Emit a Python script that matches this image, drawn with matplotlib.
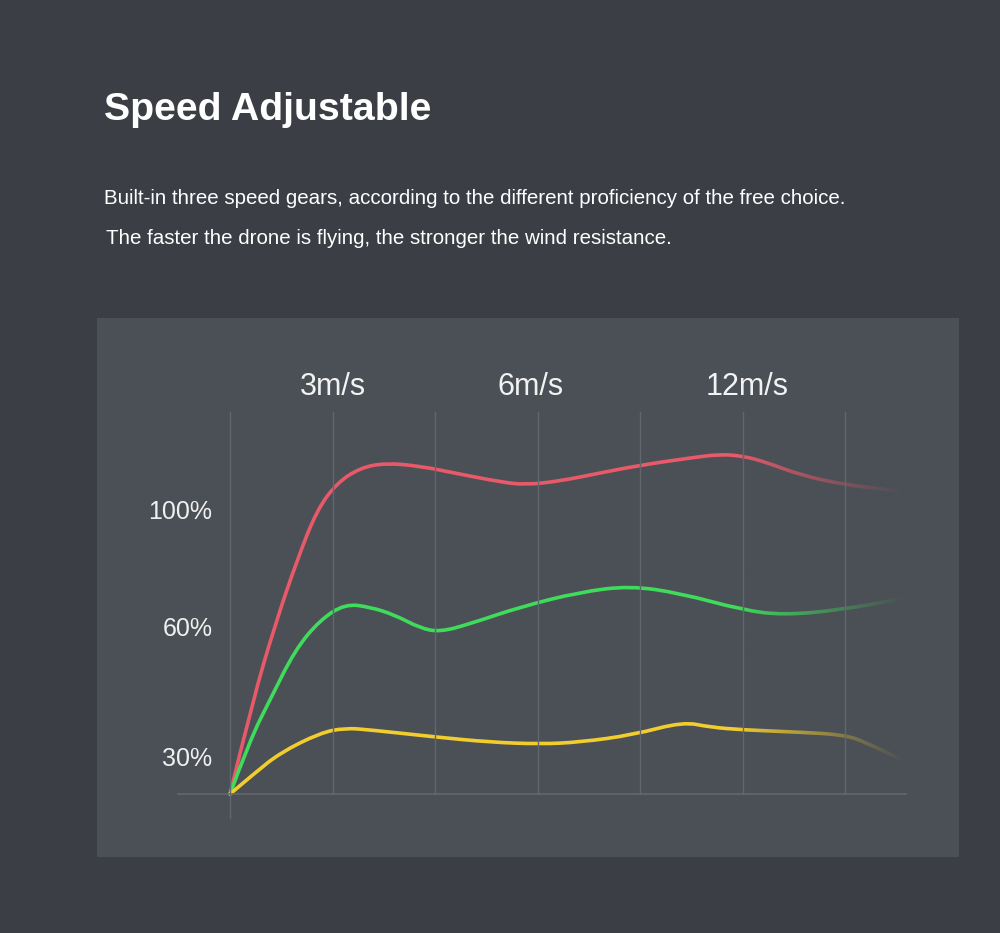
import numpy as np
import matplotlib
matplotlib.use("Agg")
from matplotlib import pyplot as plt
from matplotlib.path import Path
from matplotlib.patches import PathPatch

# chart units: x = gear grid columns (0..6), y = height above baseline
red_x = [0, 0.224, 0.439, 0.654, 0.849, 1.044, 1.268, 1.512, 1.854, 2.244, 2.634,
         2.878, 3.220, 3.610, 4.020, 4.488, 4.780, 5.005, 5.220, 5.561, 6.000, 6.537]
red_y = [0, 24.5, 44.0, 60.9, 74.0, 81.0, 84.9, 86.2, 85.4, 83.3, 81.3,
         80.5, 81.5, 83.6, 85.7, 87.5, 88.5, 88.0, 86.5, 83.1, 80.5, 78.9]

green_x = [0, 0.195, 0.390, 0.634, 0.878, 1.122, 1.366, 1.610, 1.854, 2.049, 2.341,
           2.829, 3.415, 3.902, 4.390, 5.005, 5.395, 5.951, 6.585]
green_y = [0, 14.1, 24.5, 37.5, 45.3, 49.5, 48.7, 46.6, 43.2, 42.2, 44.3,
           48.7, 52.6, 54.2, 52.3, 47.9, 46.6, 47.9, 51.0]

yellow_x = [0, 0.244, 0.488, 0.878, 1.122, 1.366, 2.020, 2.537, 3.024, 3.415, 3.932,
            4.420, 4.683, 5.005, 5.561, 6.000, 6.215, 6.605]
yellow_y = [0, 5.5, 10.7, 15.9, 17.2, 16.7, 14.8, 13.5, 13.0, 13.5, 15.4,
            18.8, 17.4, 16.7, 16.1, 15.4, 13.3, 8.3]

speed_labels = ["3m/s", "6m/s", "12m/s"]
speed_pos = [1.0, 2.93, 5.05]
pct_labels = ["100%", "60%", "30%"]
pct_pos = [71.6, 41.1, 7.3]
grid_x = [0, 1, 2, 3, 4, 5, 6]

BG = "#3b3f45"
PANEL = "#4b5056"
GRID = "#62676d"


def kavis(ax, xs, ys, renk):
    # control points -> smooth quadratic bezier through midpoints
    pts = list(zip(xs, ys))
    verts = [pts[0]]
    codes = [Path.MOVETO]
    for i in range(1, len(pts) - 1):
        mid = ((pts[i][0] + pts[i + 1][0]) / 2, (pts[i][1] + pts[i + 1][1]) / 2)
        verts += [pts[i], mid]
        codes += [Path.CURVE3, Path.CURVE3]
    verts.append(pts[-1])
    codes.append(Path.LINETO)
    ax.add_patch(PathPatch(Path(verts, codes), fill=False, edgecolor=renk,
                           lw=2.6, capstyle="round", joinstyle="round", zorder=2))


fig = plt.figure(figsize=(10, 9.33), dpi=100, facecolor=BG)

fig.text(0.104, 1 - 120 / 933, "Speed Adjustable", color="white", fontsize=28.3,
         fontweight="bold", family="Liberation Sans", va="baseline")
fig.text(0.104, 1 - 204 / 933,
         "Built-in three speed gears, according to the different proficiency of the free choice.",
         color="white", fontsize=14.8, family="Liberation Sans", va="baseline")
fig.text(0.106, 1 - 244 / 933,
         "The faster the drone is flying, the stronger the wind resistance.",
         color="white", fontsize=14.8, family="Liberation Sans", va="baseline")

# panel = axes
ax = fig.add_axes([97 / 1000, 1 - 857 / 933, 862 / 1000, 539 / 933])
ax.set_facecolor(PANEL)
for s in ax.spines.values():
    s.set_visible(False)
ax.set_xticks([])
ax.set_yticks([])

for gx in grid_x:
    alt = -6.25 if gx == 0 else 0
    ax.plot([gx, gx], [alt, 99.5], color=GRID, lw=1, zorder=4)
ax.plot([-0.507, 6.595], [0, 0], color=GRID, lw=1.2, zorder=4)

kavis(ax, red_x, red_y, "#e8596a")
kavis(ax, green_x, green_y, "#3fdc5c")
kavis(ax, yellow_x, yellow_y, "#f2cd2e")

# fade curves to the right
xs = np.linspace(0, 1, 300)
alpha = np.clip(xs / 0.9, 0, 1) ** 0.9
rgba = np.zeros((1, 300, 4))
rgba[..., :3] = matplotlib.colors.to_rgb(PANEL)
rgba[..., 3] = alpha
ax.imshow(rgba, extent=[4.95, 6.75, 2.5, 93], aspect="auto", zorder=3, interpolation="bilinear")

for lab, p in zip(speed_labels, speed_pos):
    ax.text(p, 103.9, lab, color="#f2f2f2", fontsize=22, family="Liberation Sans",
            ha="center", va="baseline")
for lab, p in zip(pct_labels, pct_pos):
    ax.text(-0.17, p, lab, color="#f0f0f0", fontsize=18, family="Liberation Sans",
            ha="right", va="baseline")

ax.set_xlim((97 - 230) / 102.5, (959 - 230) / 102.5)
ax.set_ylim((794 - 857) / 3.84, (794 - 318) / 3.84)

fig.savefig("out.png", dpi=100, facecolor=BG)
